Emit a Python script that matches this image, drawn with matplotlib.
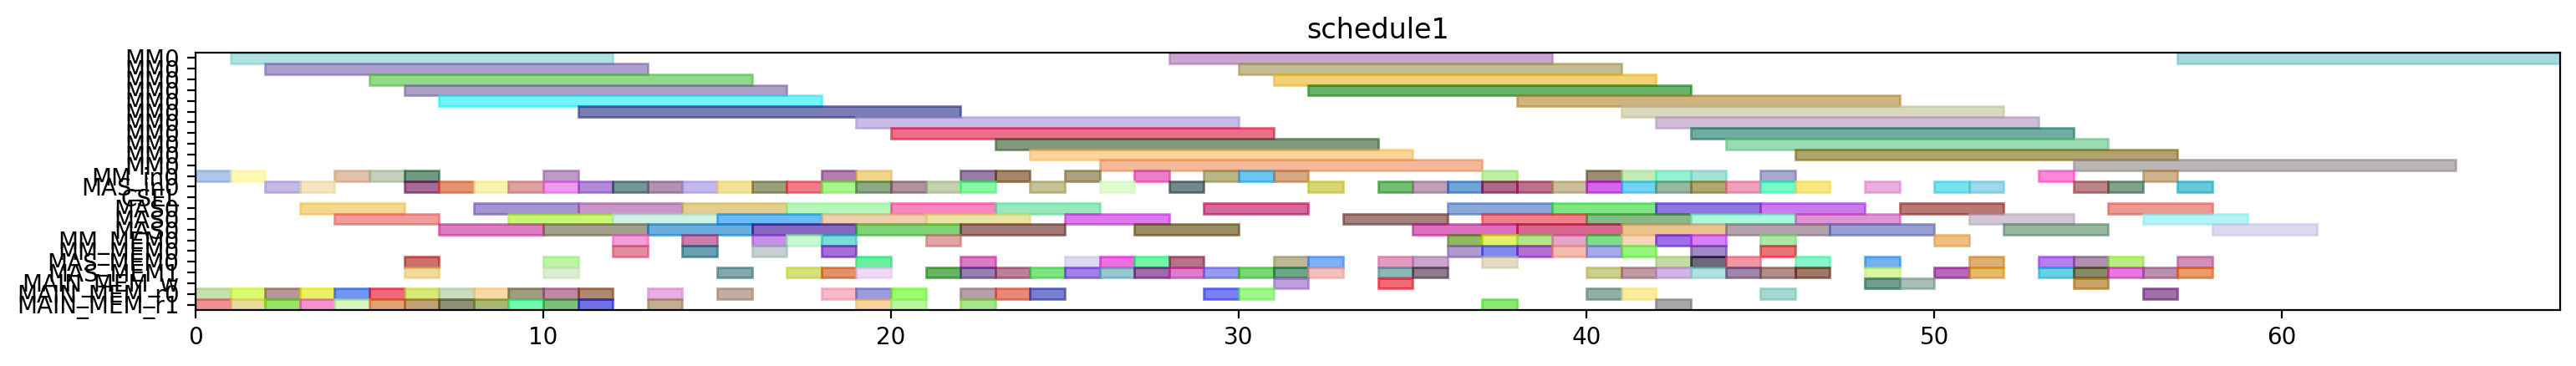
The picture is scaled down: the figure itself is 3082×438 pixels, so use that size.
import numpy as np
import matplotlib
matplotlib.use('Agg')
import matplotlib.pyplot as plt
from matplotlib.colors import to_rgb

# y rows, top to bottom
row_labels = ['MM0'] * 11 + ['MM_in0', 'MAS_in0', 'CSEL', 'MAS0', 'MAS0', 'MAS0',
                              'MM_MEM0', 'MM_MEM0', 'MAS_MEM0', 'MAS_MEM1',
                              'MAIN_MEM_w', 'MAIN_MEM_r0', 'MAIN_MEM_r1']

# start times of the tasks, one list per row
starts = [
    [1, 28, 57],
    [2, 30],
    [5, 31],
    [6, 32],
    [7, 38],
    [11, 41],
    [19, 42],
    [20, 43],
    [23, 44],
    [24, 46],
    [26, 54],
    [0, 1, 4, 5, 6, 10, 18, 19, 22, 23, 25, 27, 29, 30, 31, 37, 40, 41, 42, 43, 45, 53, 56],
    [2, 3, 6, 7, 8, 9, 10, 11, 12, 13, 14, 15, 16, 17, 18, 19, 20, 21, 22, 24, 26, 28,
     32, 34, 35, 36, 37, 38, 39, 40, 41, 42, 43, 44, 45, 46, 48, 50, 51, 54, 55, 57],
    [],
    [3, 8, 11, 14, 17, 20, 23, 29, 36, 39, 42, 45, 49, 55],
    [4, 9, 12, 15, 18, 21, 25, 33, 37, 40, 43, 46, 51, 56],
    [7, 10, 13, 16, 19, 22, 27, 35, 38, 41, 44, 47, 52, 58],
    [12, 14, 16, 17, 18, 21, 36, 37, 38, 39, 40, 41, 42, 43, 45, 50],
    [12, 14, 16, 18, 36, 37, 38, 39, 40, 41, 43, 45],
    [6, 10, 19, 22, 25, 26, 27, 28, 31, 32, 34, 35, 37, 42, 43, 44, 46, 48, 51, 53, 54, 55, 57],
    [6, 10, 15, 17, 18, 19, 21, 22, 23, 24, 25, 26, 27, 28, 29, 30, 31, 32, 34, 35,
     40, 41, 42, 43, 44, 45, 46, 48, 50, 51, 53, 54, 55, 56, 57],
    [31, 34, 48, 49, 54],
    [0, 1, 2, 3, 4, 5, 6, 7, 8, 9, 10, 11, 13, 15, 18, 19, 20, 22, 23, 24, 29, 30, 40, 41, 45, 56],
    [0, 1, 2, 3, 4, 5, 6, 7, 8, 9, 10, 11, 13, 19, 20, 22, 37, 42],
]

# task durations: MM rows run 11, MAS rows run 3, everything else 1
row_duration = [11] * 11 + [1, 1, 1, 3, 3, 3, 1, 1, 1, 1, 1, 1, 1]

colors = [
    ['#b2e2df', '#cca6d2', '#a6d8e0'],
    ['#b09fcf', '#c4bd93'],
    ['#93d88a', '#f2d275'],
    ['#ada0c8', '#6ab26a'],
    ['#73f3fb', '#d1b47f'],
    ['#7a7eb5', '#dad9bf'],
    ['#c9bce6', '#d0bfd6'],
    ['#ef6d88', '#71aba1'],
    ['#829b7f', '#9bdbb2'],
    ['#fdd39c', '#b1a36e'],
    ['#f5b99b', '#bcb6b6'],
    ['#aec8e8', '#fff9b8', '#e3c1ab', '#c5d1bc', '#719a83', '#bb9cc6', '#b27fae', '#f0d78d',
     '#9a7fa4', '#a5876a', '#aca280', '#ec7fc7', '#bcb68a', '#6cc4f0', '#d5a985', '#bdf0a0',
     '#9a8d76', '#c5ebb5', '#94f2d4', '#a4e2d6', '#a7a8d0', '#ff88d6', '#cdb28f'],
    ['#c4b8e6', '#f5e6c2', '#a46c96', '#e69377', '#f7f1b2', '#dca3a5', '#ee9aee', '#b38ad8',
     '#759594', '#b491b3', '#c5b8ec', '#f5e39a', '#9aa07c', '#f17d8a', '#a8f68a', '#8aa985',
     '#af919c', '#c4d0ae', '#87faa6', '#c5c196', '#e1fbcf', '#74878a', '#d8d573', '#74bd71',
     '#c29fb8', '#72a2d6', '#b1628b', '#c0708f', '#cbbe9d', '#d466e8', '#73d4f4', '#98b9a2',
     '#b0a872', '#efa0ba', '#76fbc8', '#f7e783', '#ebb0e0', '#7ae3ed', '#9bd8e8', '#bc8589',
     '#81a08a', '#6ac8d8'],
    [],
    ['#f7d68f', '#a593d2', '#c996c8', '#e2cf8f', '#b5f7b8', '#f788be', '#98e9bc', '#d4689a',
     '#8aa8dc', '#80e683', '#9079dd', '#c97bee', '#bb7778', '#eb9a92'],
    ['#f19b9a', '#c8f773', '#cff0e4', '#6bbcf8', '#f0cfb0', '#ebe6a5', '#df78ee', '#a5807b',
     '#f27f89', '#87ba86', '#aaf9dc', '#df95d3', '#d4c8d6', '#b3f4f7'],
    ['#dd7bbd', '#a39f8f', '#6aaee0', '#8569c0', '#7fd277', '#a07b79', '#9a8d63', '#dc70bd',
     '#d8678f', '#e9c38e', '#b3a2ad', '#989fd0', '#98b5a0', '#dcd8f0'],
    ['#f39ed8', '#c97fae', '#c590e8', '#c8fad0', '#7bdbd8', '#e1a5a5', '#93b866', '#e2f06a',
     '#b2e590', '#e5a4c9', '#80dc88', '#f5d7b8', '#a06ee8', '#da80f8', '#ade8a6', '#eec283'],
    ['#e38ea0', '#6aa0b0', '#c8d0d2', '#a36fd2', '#b09ad0', '#8088ee', '#b470d0', '#f4bcb0',
     '#aaaae6', '#98f47c', '#9e88c8', '#ec7078'],
    ['#cd716b', '#bef6a6', '#6ceea0', '#d67bc4', '#dcdaf0', '#ee6fe0', '#73f5a6', '#b7728a',
     '#bbb898', '#7fb3f5', '#e49dc0', '#c9a8cc', '#e2dcc5', '#c5dba6', '#6d6978', '#f098a6',
     '#8df3cb', '#74b2ee', '#deb076', '#b87ef0', '#ae90b0', '#b8ee80', '#d28fbc'],
    ['#f0dc98', '#dbefd4', '#80a8ac', '#d5e27a', '#e69060', '#f0d8f8', '#6bb465', '#9680b0',
     '#bc809a', '#7ce484', '#a080e8', '#98c8d0', '#a468ac', '#e07cc8', '#9898f0', '#78d870',
     '#68a888', '#f4c0bc', '#8cb8b8', '#917b8e', '#cccf90', '#c29ba4', '#d4b4e8', '#b0e2e0',
     '#9c88a8', '#b28e8a', '#a07868', '#d8f8a0', '#b868b8', '#e6bc68', '#68d0e4', '#8a8a6a',
     '#e878e0', '#bc90b0', '#ec9a68'],
    ['#bca0da', '#ee6a74', '#729e90', '#a8bfb5', '#c8a468'],
    ['#c8e0b0', '#d8fa70', '#b89894', '#ecf060', '#7098f0', '#f06878', '#d8e878', '#c8dcc0',
     '#fad8a8', '#a09c80', '#c088a8', '#b08870', '#e8b0e4', '#c4aca4', '#f8b8c8', '#9c9cd8',
     '#a0fa70', '#b8a0a8', '#e88878', '#7880d0', '#7b80f8', '#a0f88a', '#90b0a8', '#faec9e',
     '#a8d8d0', '#a070a8'],
    ['#f09090', '#e8dc98', '#98e468', '#f890d0', '#d8f8c0', '#e4a070', '#c0a078', '#909078',
     '#a8b870', '#70fab0', '#7cc07c', '#7070e8', '#c0b090', '#f8d498', '#b8f8a0', '#a8e488',
     '#88e870', '#a8a8a8'],
]

ALPHA = 0.6


def base_color(hexcol):
    # colours above are what shows on white; undo the alpha blend
    c = (np.array(to_rgb(hexcol)) - (1 - ALPHA)) / ALPHA
    return tuple(np.clip(c, 0, 1))


fig = plt.figure(figsize=(15.41, 2.19), dpi=200)
ax = fig.add_axes([234 / 3082, 1 - 371 / 438, (3063 - 234) / 3082, (371 - 63) / 438])

for row, (st, cols) in enumerate(zip(starts, colors)):
    for s, c in zip(st, cols):
        bc = base_color(c)
        ax.barh(row, row_duration[row], left=s, height=1.0, color=bc,
                edgecolor=bc, linewidth=1.0, alpha=ALPHA)

ax.set_yticks(np.arange(len(row_labels)))
ax.set_yticklabels(row_labels)
ax.set_ylim(len(row_labels) - 0.5, -0.5)
ax.set_xlim(0, 68)
ax.set_title('schedule1')

plt.savefig('out.png', dpi=200)
